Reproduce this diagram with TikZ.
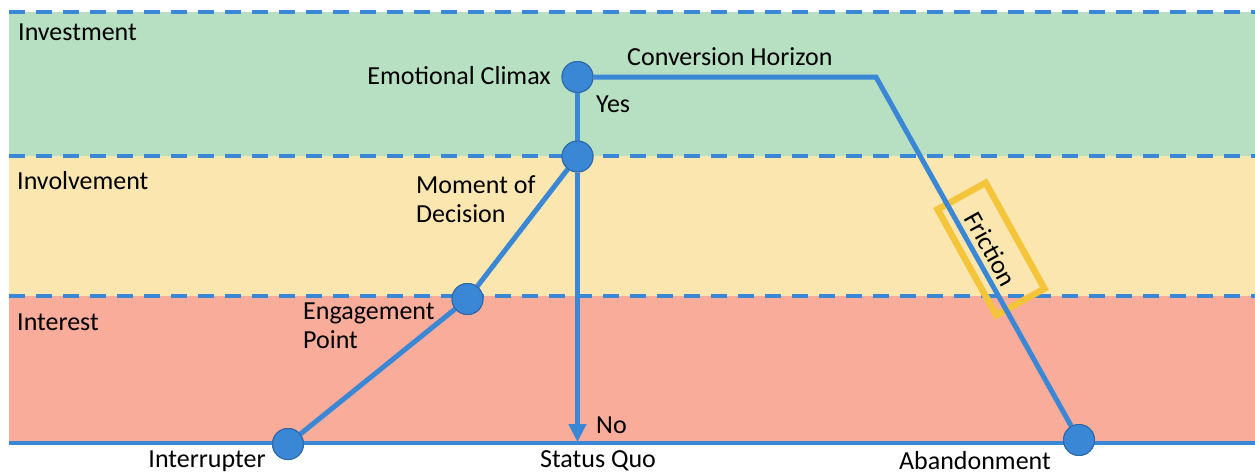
\documentclass[tikz,border=0pt]{standalone}
\usepackage{fontspec}
\setmainfont{Carlito}
\usetikzlibrary{arrows.meta}
\definecolor{bandgreen}{RGB}{183,223,194}
\definecolor{bandyellow}{RGB}{250,230,174}
\definecolor{bandred}{RGB}{250,172,155}
\definecolor{lineblue}{RGB}{58,135,214}
\definecolor{dotborder}{RGB}{44,104,170}
\definecolor{fricyellow}{RGB}{244,196,58}
\tikzset{
  bandline/.style={lineblue, line width=3.5pt, dash pattern=on 16pt off 11pt},
  pathline/.style={lineblue, line width=5pt},
  dot/.style={circle, fill=lineblue, draw=dotborder, line width=1pt, minimum size=31pt, inner sep=0pt},
  lbl/.style={font=\fontsize{26}{29}\selectfont, inner sep=0pt, text=black},
}
\begin{document}
\begin{tikzpicture}[x=1pt,y=-1pt]
\useasboundingbox (0,0) rectangle (1255,475);
\fill[white] (0,0) rectangle (1255,475);
% bands
\fill[bandgreen] (9,12) rectangle (1255,156);
\fill[bandyellow] (9,156) rectangle (1255,296);
\fill[bandred] (9,296) rectangle (1255,443);
\draw[bandline] (9,12) -- (1255,12);
\draw[bandline] (9,156) -- (1255,156);
\draw[bandline] (9,296) -- (1255,296);
\draw[lineblue, line width=3.5pt] (9,443) -- (1255,443);
% band labels
\node[lbl, anchor=west] (inv) at (18,32) {Investment};
\node[lbl, anchor=west] (invl) at (17,181) {Involvement};
\node[lbl, anchor=west] (intr) at (17,322) {Interest};
% friction box
\node[draw=fricyellow, line width=6.5pt, rotate=-61, minimum width=121pt, minimum height=55pt, lbl] (fr) at (991,249) {Friction};
% dots
\node[dot] (ec) at (577.5,77) {};
\node[dot] (md) at (577.5,156.5) {};
\node[dot] (ep) at (467.5,299) {};
\node[dot] (ir) at (288,444) {};
\node[dot] (ab) at (1079,440) {};
\coordinate (corner) at (876,77);
\coordinate (sq) at (577.5,442);
% connectors
\draw[pathline] (ec) -- (corner) -- (ab);
\draw[pathline] (ec) -- (md);
\draw[pathline] (ir) -- (ep) -- (md);
\draw[pathline, -{Triangle[width=17pt,length=18pt]}] (md) -- (sq);
% redraw dots on top
\node[dot] at (ec) {};
\node[dot] at (md) {};
\node[dot] at (ep) {};
\node[dot] at (ir) {};
\node[dot] at (ab) {};
% labels
\node[lbl, anchor=east] (lec) at (551,76) {Emotional Climax};
\node[lbl, anchor=west] (lyes) at (596,104) {Yes};
\node[lbl, anchor=west] (lch) at (627,57) {Conversion Horizon};
\node[lbl, anchor=west, align=left] (lmd) at (416,199) {Moment of\\Decision};
\node[lbl, anchor=west, align=left] (lep) at (303,326) {Engagement\\Point};
\node[lbl] (lir) at (207,461) {Interrupter};
\node[lbl] (lsq) at (598,461) {Status Quo};
\node[lbl] (lab) at (975,461) {Abandonment};
\node[lbl, anchor=west] (lno) at (596,425) {No};
\end{tikzpicture}
\end{document}
